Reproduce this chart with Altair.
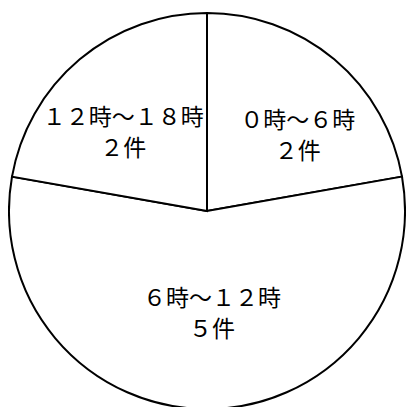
import altair as alt
import pandas as pd

categories = ["０時～６時", "６時～１２時", "１２時～１８時"]
counts = [2, 5, 2]
count_labels = ["２件", "５件", "２件"]
order = [0, 1, 2]

df = pd.DataFrame({
    "category": categories,
    "count": counts,
    "count_label": count_labels,
    "order": order,
})
df["label"] = [c + "\n" + n for c, n in zip(categories, count_labels)]

total = sum(counts)
theta_scale = alt.Scale(domain=[0, total], nice=False, zero=True)

base = alt.Chart(df).transform_stack(
    stack="count", groupby=[], as_=["t0", "t1"],
    sort=[alt.SortField("order", order="ascending")],
).transform_calculate(mid="(datum.t0 + datum.t1) / 2")

pie = base.mark_arc(outerRadius=198, fill="white", stroke="black", strokeWidth=2).encode(
    theta=alt.Theta("t0:Q", scale=theta_scale),
    theta2="t1:Q",
)

FONT = "Noto Sans CJK JP"

def label_layer(cat, r, dx, dy):
    return base.transform_filter(alt.datum.category == cat).mark_text(
        radius=r, dx=dx, dy=dy, font=FONT, fontSize=23, lineHeight=31,
        lineBreak="\n", color="black", align="center", baseline="middle",
    ).encode(theta=alt.Theta("mid:Q", scale=theta_scale), text="label:N")

labels = (
    label_layer(categories[0], 127, 9, 7)
    + label_layer(categories[1], 88, 5, 0)
    + label_layer(categories[2], 127, -2, 4)
)

chart = (pie + labels).properties(
    width=398, height=392,
    padding={"left": 0, "right": 0, "top": 7, "bottom": 0},
    autosize=alt.AutoSizeParams(type="none"),
).configure_view(stroke=None)

chart.save("out.html", embed_options={"renderer": "svg", "actions": False})
